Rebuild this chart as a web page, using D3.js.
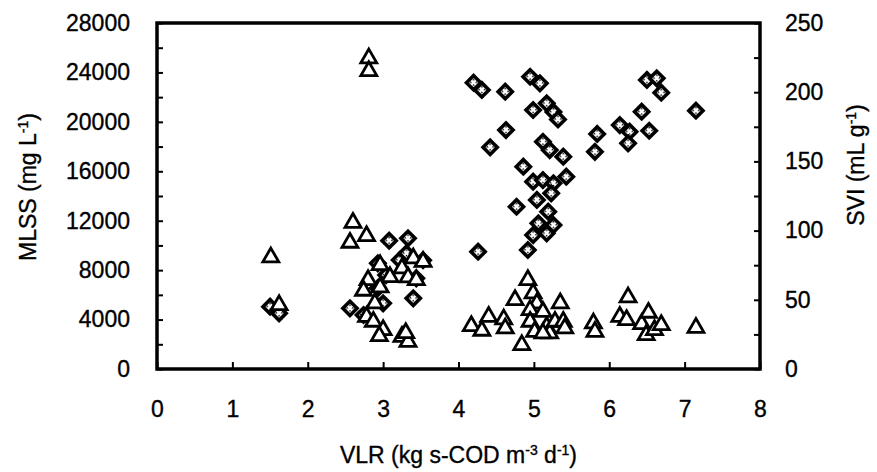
<!DOCTYPE html>
<html>
<head>
<meta charset="utf-8">
<script src="https://cdn.jsdelivr.net/npm/d3@7"></script>
<style>
  body { margin: 0; background: #fff; }
  text { font-family: "Liberation Sans", Arial, sans-serif; fill: #000; stroke: #000; stroke-width: 0.35px; }
</style>
</head>
<body>
<svg id="chart" width="877" height="472"></svg>
<script>
// MLSS (diamonds, left axis) vs VLR
const mlssVlr = [1.50, 1.62, 2.56, 2.74, 3.00, 2.93, 3.04, 2.93, 3.22, 3.31, 3.08, 3.33, 3.40, 3.44, 3.53,
  4.20, 4.31, 4.62, 4.95, 5.08, 4.99, 5.17, 5.26, 5.32, 4.63, 4.42, 5.12, 5.21, 5.39, 5.43, 4.86, 4.99, 5.12,
  5.26, 5.23, 5.04, 4.77, 5.19, 5.26, 5.06, 4.99, 5.17, 4.92, 4.26,
  6.50, 6.63, 6.69, 7.15, 6.43, 6.14, 6.27, 6.53, 6.25, 5.84, 5.81]
const mlss = [5040, 4510, 4910, 4370, 5320, 6550, 7600, 8550, 8820, 9360, 10380, 10580, 5720, 7340, 8800,
  23170, 22580, 22440, 23650, 23120, 20960, 21500, 20800, 20200, 19340, 17940, 18390, 17720, 17180, 15560, 16370, 15160, 15290,
  15030, 14220, 13680, 13130, 12730, 11650, 11790, 10840, 10980, 9630, 9490,
  23390, 23520, 22360, 20900, 20820, 19740, 19200, 19280, 18260, 19020, 17580]

// SVI (triangles, right axis) vs VLR
const sviVlr = [1.51, 1.62, 2.60, 2.56, 2.78, 2.96, 3.09, 2.80, 2.74, 2.96, 2.89, 2.78, 2.87, 3.00, 2.95,
  3.25, 3.33, 3.30, 3.40, 3.53, 3.25, 3.33, 3.44, 2.81, 2.81,
  4.17, 4.31, 4.40, 4.60, 4.62, 4.75, 4.92, 4.99, 5.04, 4.95, 4.95, 5.12, 5.01, 5.17, 5.21, 5.28,
  5.35, 5.39, 5.41, 5.12, 4.84, 5.79, 5.81, 6.14, 6.25, 6.23, 6.43, 6.52, 6.49, 6.60, 6.69, 7.15]
const svi = [80.7, 46.2, 105.7, 91.3, 96.1, 75.1, 66.5, 64.3, 56.6, 59.0, 47.5, 37.8, 34.2, 28.2, 23.8,
  23.3, 19.7, 26.0, 80.0, 77.5, 72.8, 66.3, 64.3, 224.5, 215.3,
  31.1, 27.7, 37.8, 35.9, 29.4, 49.9, 64.3, 54.7, 47.5, 42.6, 34.2, 41.4, 26.9, 30.6, 25.8, 34.2,
  47.5, 34.2, 29.4, 25.8, 17.3, 33.0, 26.9, 37.8, 51.8, 35.4, 32.5, 40.7, 24.6, 28.2, 31.8, 29.8]

const xTicks = [0, 1, 2, 3, 4, 5, 6, 7, 8]
const leftTicks = d3.range(0, 28001, 2000)
const rightTicks = d3.range(0, 251, 25)

let svg = d3.select("#chart")
let plot = {left: 157, right: 760, top: 23, bottom: 369}

let x = d3.scaleLinear().domain([0, 8]).range([plot.left, plot.right])
let yL = d3.scaleLinear().domain([0, 28000]).range([plot.bottom, plot.top])
let yR = d3.scaleLinear().domain([0, 250]).range([plot.bottom, plot.top])

// speckled fill for the diamond centres
let defs = svg.append("defs")
let pat = defs.append("pattern")
  .attr("id", "speck")
  .attr("width", 4).attr("height", 4)
  .attr("patternUnits", "userSpaceOnUse")
pat.append("rect").attr("width", 4).attr("height", 4).attr("fill", "#fff")
pat.append("rect").attr("x", 1).attr("y", 1).attr("width", 1.5).attr("height", 1.5).attr("fill", "#000")

// axes
const styleAxis = (g) => {
  g.select(".domain").remove()
  g.selectAll(".tick line").attr("stroke", "#000").attr("stroke-width", 2)
  g.selectAll(".tick text").style("font-size", "23px")
}

svg.append("g")
  .attr("transform", "translate(0," + plot.bottom + ")")
  .call(d3.axisBottom(x).tickValues(xTicks).tickFormat(d3.format("d")).tickSizeInner(-7).tickSizeOuter(0).tickPadding(32))
  .call(styleAxis)

svg.append("g")
  .attr("transform", "translate(" + plot.left + ",0)")
  .call(d3.axisLeft(yL).tickValues(leftTicks)
    .tickFormat(d => d % 4000 === 0 ? d : "")
    .tickSizeInner(-6).tickSizeOuter(0).tickPadding(27))
  .call(styleAxis)

svg.append("g")
  .attr("transform", "translate(" + plot.right + ",0)")
  .call(d3.axisRight(yR).tickValues(rightTicks)
    .tickFormat(d => d % 50 === 0 ? d : "")
    .tickSizeInner(-6).tickSizeOuter(0).tickPadding(25))
  .call(styleAxis)

// frame
svg.append("rect")
  .attr("x", plot.left).attr("y", plot.top)
  .attr("width", plot.right - plot.left).attr("height", plot.bottom - plot.top)
  .attr("fill", "none").attr("stroke", "#000").attr("stroke-width", 3.5)

// diamonds (MLSS)
let dia = svg.append("g").selectAll("g")
  .data(d3.zip(mlssVlr, mlss))
  .enter().append("g")
  .attr("transform", d => "translate(" + x(d[0]) + "," + yL(d[1]) + ") rotate(45)")
dia.append("path")
  .attr("d", d3.symbol(d3.symbolSquare, 185))
  .attr("fill", "#000")
dia.append("path")
  .attr("d", d3.symbol(d3.symbolSquare, 42))
  .attr("fill", "url(#speck)")

// triangles (SVI)
svg.append("g").selectAll("path")
  .data(d3.zip(sviVlr, svi))
  .enter().append("path")
  .attr("transform", d => "translate(" + x(d[0]) + "," + yR(d[1]) + ")")
  .attr("d", d3.symbol(d3.symbolTriangle, 110))
  .attr("fill", "#fff")
  .attr("stroke", "#000")
  .attr("stroke-width", 2.8)
  .attr("stroke-linejoin", "miter")

// axis titles
let xt = svg.append("text")
  .attr("x", (plot.left + plot.right) / 2).attr("y", 463)
  .attr("text-anchor", "middle").style("font-size", "23px")
xt.append("tspan").text("VLR (kg s-COD m")
xt.append("tspan").text("-3").attr("dy", -8).style("font-size", "14px")
xt.append("tspan").text(" d").attr("dy", 8)
xt.append("tspan").text("-1").attr("dy", -8).style("font-size", "14px")
xt.append("tspan").text(")").attr("dy", 8)

let yl = svg.append("text")
  .attr("transform", "translate(36,187) rotate(-90)")
  .attr("text-anchor", "middle").style("font-size", "23px")
yl.append("tspan").text("MLSS (mg L")
yl.append("tspan").text("-1").attr("dy", -8).style("font-size", "14px")
yl.append("tspan").text(")").attr("dy", 8)

let yr = svg.append("text")
  .attr("transform", "translate(864,165) rotate(-90)")
  .attr("text-anchor", "middle").style("font-size", "23px")
yr.append("tspan").text("SVI (mL g")
yr.append("tspan").text("-1").attr("dy", -8).style("font-size", "14px")
yr.append("tspan").text(")").attr("dy", 8)
</script>
</body>
</html>
